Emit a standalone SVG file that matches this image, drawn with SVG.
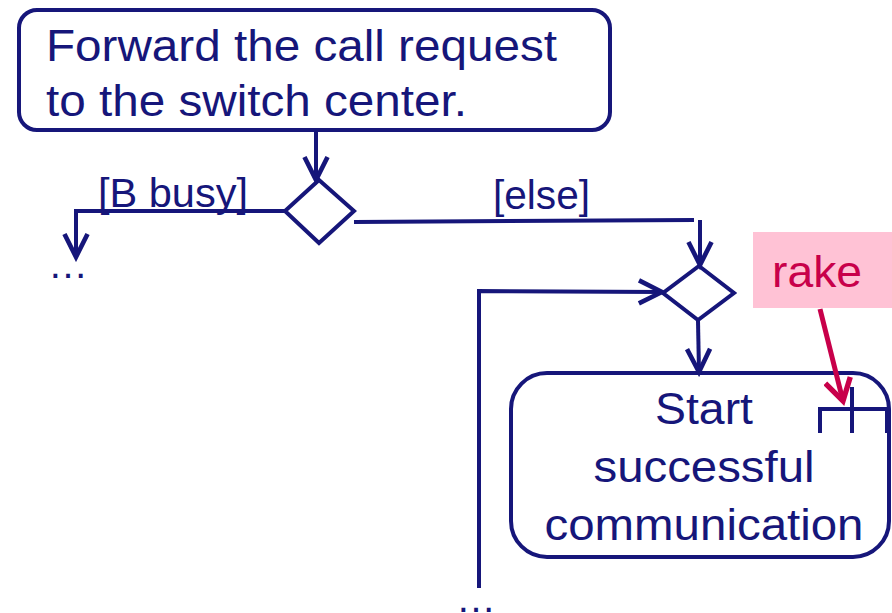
<svg xmlns="http://www.w3.org/2000/svg" width="892" height="613" viewBox="0 0 892 613">
  <defs>
    <style>
      .box { fill: #ffffff; stroke: #16167a; stroke-width: 4; }
      .line { fill: none; stroke: #16167a; stroke-width: 4; }
      .txt { font-family: "Liberation Sans", Arial, sans-serif; fill: #16167a; }
      .big { font-size: 44px; }
      .lbl { font-size: 40px; }
    </style>
    <marker id="arr" markerUnits="userSpaceOnUse" markerWidth="30" markerHeight="30" viewBox="-22 -12 26 24" refX="0" refY="0" orient="auto">
      <path d="M-20,-10 L0,0 L-20,10" fill="none" stroke="#16167a" stroke-width="4" stroke-linejoin="miter"/>
    </marker>
    <marker id="arrPink" markerUnits="userSpaceOnUse" markerWidth="30" markerHeight="30" viewBox="-22 -14 26 28" refX="0" refY="0" orient="auto">
      <path d="M-20,-12 L0,0 L-20,12" fill="none" stroke="#c8004a" stroke-width="5" stroke-linejoin="miter"/>
    </marker>
  </defs>
  <rect width="892" height="613" fill="#ffffff"/>

  <g id="forward">
    <rect class="box" x="19" y="10" width="591" height="120" rx="18" ry="18"/>
    <text class="txt big" x="46" y="61" textLength="511" lengthAdjust="spacingAndGlyphs">Forward the call request</text>
    <text class="txt big" x="46" y="116" textLength="421" lengthAdjust="spacingAndGlyphs">to the switch center.</text>
  </g>

  <g id="decision1">
    <polygon class="line" points="319,180 354,211 319,243 285,211"/>
  </g>

  <g id="label-busy">
    <text class="txt lbl" x="98" y="207" textLength="150" lengthAdjust="spacingAndGlyphs">[B busy]</text>
  </g>

  <g id="label-else">
    <text class="txt lbl" x="493" y="209" textLength="97" lengthAdjust="spacingAndGlyphs">[else]</text>
  </g>

  <g id="ellipsis-left">
    <text class="txt lbl" x="48" y="278">…</text>
  </g>

  <g id="merge">
    <polygon class="line" points="699,266 734,293 698,320 663,293"/>
  </g>

  <g id="ellipsis-bottom">
    <text class="txt lbl" x="456" y="612">…</text>
  </g>

  <g id="start-comm">
    <rect class="box" x="511" y="373" width="378" height="184" rx="36" ry="36"/>
    <text class="txt big" x="704" y="424" text-anchor="middle" textLength="98" lengthAdjust="spacingAndGlyphs">Start</text>
    <text class="txt big" x="704" y="482" text-anchor="middle" textLength="221" lengthAdjust="spacingAndGlyphs">successful</text>
    <text class="txt big" x="704" y="540" text-anchor="middle" textLength="319" lengthAdjust="spacingAndGlyphs">communication</text>
    <path class="line" d="M820,433 L820,409 L887,409 L887,433 M852,387 L852,433"/>
  </g>

  <g id="rake-note">
    <rect x="753" y="232" width="139" height="76" fill="#ffc2d5"/>
    <text x="772" y="287" font-family="Liberation Sans, Arial, sans-serif" font-size="44" fill="#c8004a" textLength="90" lengthAdjust="spacingAndGlyphs">rake</text>
  </g>

  <g id="connectors">
    <path class="line" d="M316,131 L316,180" marker-end="url(#arr)"/>
    <path class="line" d="M285,211 L76,211 L76,257" marker-end="url(#arr)"/>
    <path class="line" d="M354,222 L694,220 M700,220 L700,265" marker-end="url(#arr)"/>
    <path class="line" d="M479,588 L479,291 L662,292" marker-end="url(#arr)"/>
    <path class="line" d="M698,321 L699,372" marker-end="url(#arr)"/>
    <path fill="none" stroke="#c8004a" stroke-width="5" d="M820,309 L843,401" marker-end="url(#arrPink)"/>
  </g>
</svg>
